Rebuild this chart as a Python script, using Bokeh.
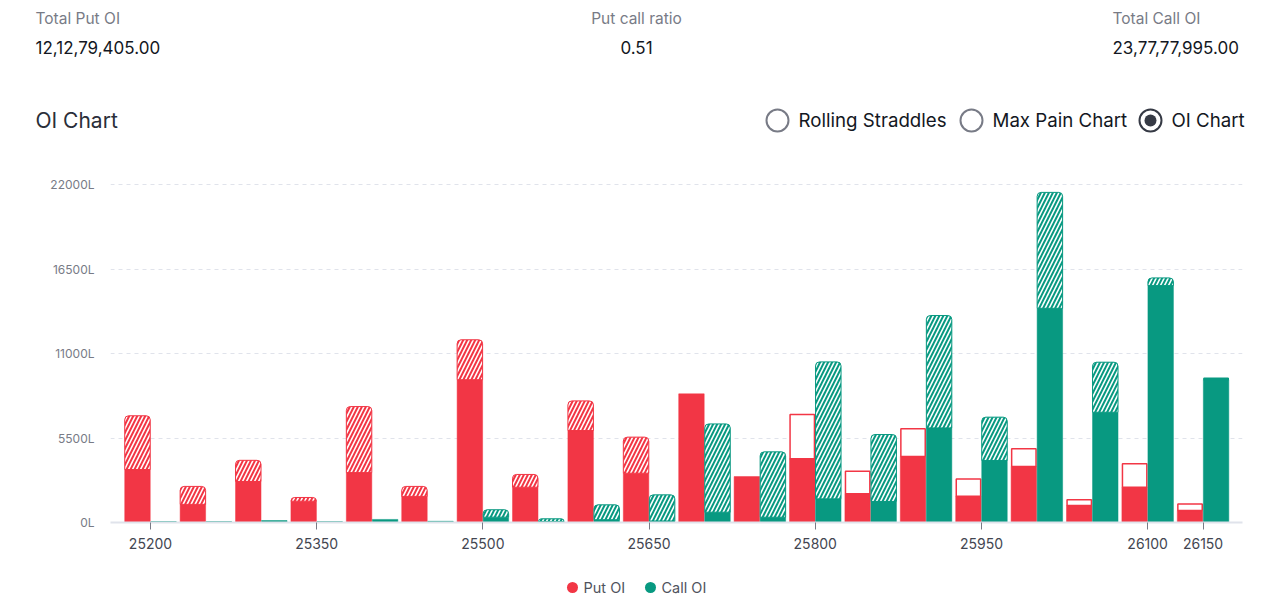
from bokeh.plotting import figure
from bokeh.models import ColumnDataSource, Range1d, FixedTicker, PrintfTickFormatter
from bokeh.transform import dodge
from bokeh.core.properties import value
from bokeh.embed import file_html
from bokeh.resources import INLINE

# ---------------- data ----------------
strikes = [25200, 25250, 25300, 25350, 25400, 25450, 25500, 25550, 25600, 25650,
           25700, 25750, 25800, 25850, 25900, 25950, 26000, 26050, 26100, 26150]
put_oi = [6950, 2350, 4050, 1630, 7550, 2350, 11900, 3130, 7920, 5560,
          8380, 2990, 4150, 1870, 4300, 1710, 3650, 1110, 2300, 780]
put_chg = [3500, 1170, 1380, 240, 4300, 650, 2600, 830, 1930, 2350,
           0, 0, -2880, -1470, -1800, -1130, -1150, -370, -1520, -430]
call_oi = [60, 60, 130, 60, 200, 80, 830, 240, 1150, 1800,
           6420, 4600, 10460, 5730, 13480, 6860, 21500, 10440, 15930, 9300]
call_chg = [0, 0, 0, 0, 0, 0, 480, 180, 970, 1700,
            5750, 4255, 8920, 4360, 7320, 2820, 7550, 3260, 500, -100]

x_ticks = [25200, 25350, 25500, 25650, 25800, 25950, 26100, 26150]
y_ticks = [0, 5500, 11000, 16500, 22000]

header_labels = ["Total Put OI", "Put call ratio", "Total Call OI"]
header_values = ["12,12,79,405.00", "0.51", "23,77,77,995.00"]
chart_title = "OI Chart"
radio_options = ["Rolling Straddles", "Max Pain Chart", "OI Chart"]
radio_selected = "OI Chart"
series_names = ["Put OI", "Call OI"]

RED = "#F23645"
GREEN = "#089981"
FONT = "Inter"
W = 1262
HDR_H = 160          # header strip height (page px)
CH_H = 405           # chart strip height
FT_H = 35            # legend strip height


def strip(h, y0):
    f = figure(width=W, height=h, x_range=Range1d(0, W), y_range=Range1d(y0 + h, y0),
               x_axis_location=None, y_axis_location=None, min_border=0,
               toolbar_location=None, output_backend="svg")
    f.grid.visible = False
    f.outline_line_color = None
    return f


def txt(f, x, y, text, size, color, align="left"):
    f.text(x=[x], y=[y], text=[text], text_font=value(FONT), text_font_size=size,
           text_color=color, text_align=align, text_baseline="middle")


# ---------------- header ----------------
hdr = strip(HDR_H, 0)
hx = [35, 636, 1112]
halign = ["left", "center", "left"]
for lab, val, x, al in zip(header_labels, header_values, hx, halign):
    txt(hdr, x, 18, lab, "15.5px", "#787b86", al)
    txt(hdr, x, 47, val, "17px", "#131722", al)
txt(hdr, 35, 120, chart_title, "21px", "#2a2e39")

rx = [777, 971, 1150]
for opt, x in zip(radio_options, rx):
    sel = opt == radio_selected
    hdr.scatter(x=[x], y=[120], marker="circle", size=22, fill_color="white",
                line_color="#363a45" if sel else "#787b86", line_width=2)
    if sel:
        hdr.scatter(x=[x], y=[120], marker="circle", size=12, fill_color="#363a45",
                    line_color=None)
    txt(hdr, x + 21, 120, opt, "18.7px", "#131722")

# ---------------- chart ----------------
FL, FR, FT, FB = 110, 1242, 175, 522   # frame box in page pixels
p = figure(width=W, height=CH_H, x_range=Range1d(25163.9, 26185.6),
           y_range=Range1d(0, 22600), toolbar_location=None, output_backend="svg",
           min_border_left=FL, min_border_right=W - FR, min_border_top=FT - HDR_H,
           min_border_bottom=HDR_H + CH_H - FB)
p.outline_line_color = None
p.xgrid.visible = False
p.ygrid.grid_line_color = "#e0e3eb"
p.ygrid.grid_line_dash = "4 4"
p.ygrid.ticker = FixedTicker(ticks=y_ticks[1:])

p.yaxis.ticker = FixedTicker(ticks=y_ticks)
p.yaxis.formatter = PrintfTickFormatter(format="%dL")
p.yaxis.axis_line_color = None
p.yaxis.major_tick_line_color = None
p.yaxis.minor_tick_line_color = None
p.yaxis.major_label_standoff = 10
p.yaxis.major_label_text_font = FONT
p.yaxis.major_label_text_font_size = "12px"
p.yaxis.major_label_text_color = "#787b86"

p.xaxis.ticker = FixedTicker(ticks=x_ticks)
p.xaxis.axis_line_color = "#e0e3eb"
p.xaxis.axis_line_width = 2
p.xaxis.major_tick_line_color = "#787b86"
p.xaxis.major_tick_out = 7
p.xaxis.major_tick_in = 0
p.xaxis.minor_tick_line_color = None
p.xaxis.major_label_standoff = 8
p.xaxis.major_label_text_font = FONT
p.xaxis.major_label_text_font_size = "14px"
p.xaxis.major_label_text_color = "#434651"


def split(oi, chg):
    base, inc_b, inc_t, dec_b, dec_t, xs_inc, xs_dec = [], [], [], [], [], [], []
    for s, o, c in zip(strikes, oi, chg):
        if c > 0:
            base.append(o - c)
            xs_inc.append(s); inc_b.append(o - c); inc_t.append(o)
        else:
            base.append(o)
            if c < 0:
                xs_dec.append(s); dec_b.append(o); dec_t.append(o - c)
    return (ColumnDataSource(dict(strike=strikes, top=base)),
            ColumnDataSource(dict(strike=xs_inc, bottom=inc_b, top=inc_t)),
            ColumnDataSource(dict(strike=xs_dec, bottom=dec_b, top=dec_t)))


BW = 23
OFF = 11.75
for oi, chg, col, off, name in [(put_oi, put_chg, RED, -OFF, series_names[0]),
                                (call_oi, call_chg, GREEN, OFF, series_names[1])]:
    solid, inc, dec = split(oi, chg)
    p.vbar(x=dodge("strike", off), width=BW, bottom=0, top="top", source=solid,
           fill_color=col, line_color=col, line_width=0.5, name=name)
    p.vbar(x=dodge("strike", off), width=BW, bottom="bottom", top="top", source=inc,
           fill_color=col, line_color=col, line_width=1,
           hatch_pattern="right_diagonal_line", hatch_color="white",
           hatch_scale=8, hatch_weight=1.6,
           border_radius=dict(top_left=4, top_right=4, bottom_right=0, bottom_left=0))
    p.vbar(x=dodge("strike", off), width=BW - 1, bottom="bottom", top="top", source=dec,
           fill_color="white", line_color=col, line_width=1.5)

# ---------------- legend strip ----------------
ft = strip(FT_H, HDR_H + CH_H)
ft.scatter(x=[572, 650], y=[587, 587], marker="circle", size=11,
           fill_color=[RED, GREEN], line_color=None)
txt(ft, 583, 587, series_names[0], "14.5px", "#50535e")
txt(ft, 661, 587, series_names[1], "14.5px", "#50535e")

open("out.html", "w").write(file_html([hdr, p, ft], INLINE))
